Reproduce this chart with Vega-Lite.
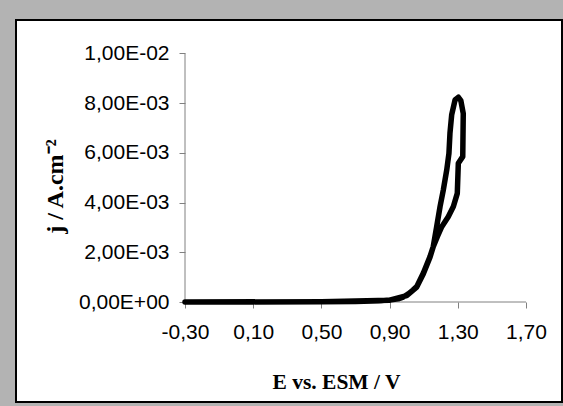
{
  "$schema": "https://vega.github.io/schema/vega-lite/v6.json",
  "width": 546,
  "height": 382,
  "autosize": {"type": "none"},
  "padding": {"left": 16, "top": 20, "right": 1, "bottom": 4},
  "background": "#b3b3b3",
  "config": {
    "view": {"stroke": "#000000", "strokeWidth": 2, "fill": "#ffffff"},
    "axis": {"grid": false, "domain": false, "tickColor": "#808080", "tickSize": 6, "labelColor": "#000000", "labelFont": "Liberation Sans", "labelFontSize": 21, "titleColor": "#000000", "titleFont": "Liberation Serif", "titleFontWeight": "bold"}
  },
  "datasets": {
    "axes": [
      {"E0": -0.3, "E1": 1.7, "j0": 0, "j1": 0.01}
    ],
    "cv": [
      {"E": -0.30, "j": 0.0, "k": 1},
      {"E": 0.10, "j": 0.000005, "k": 2},
      {"E": 0.50, "j": 0.00001, "k": 3},
      {"E": 0.70, "j": 0.00002, "k": 4},
      {"E": 0.85, "j": 0.00005, "k": 5},
      {"E": 0.90, "j": 0.00008, "k": 6},
      {"E": 0.95, "j": 0.00013, "k": 7},
      {"E": 0.98, "j": 0.0002, "k": 8},
      {"E": 1.01, "j": 0.00033, "k": 9},
      {"E": 1.037, "j": 0.00048, "k": 10},
      {"E": 1.059, "j": 0.00062, "k": 11},
      {"E": 1.098, "j": 0.00117, "k": 12},
      {"E": 1.137, "j": 0.00183, "k": 13},
      {"E": 1.156, "j": 0.00223, "k": 14},
      {"E": 1.180, "j": 0.00263, "k": 15},
      {"E": 1.206, "j": 0.00303, "k": 16},
      {"E": 1.244, "j": 0.00343, "k": 17},
      {"E": 1.274, "j": 0.00384, "k": 18},
      {"E": 1.297, "j": 0.00437, "k": 19},
      {"E": 1.303, "j": 0.00558, "k": 20},
      {"E": 1.329, "j": 0.00585, "k": 21},
      {"E": 1.332, "j": 0.00759, "k": 22},
      {"E": 1.318, "j": 0.00810, "k": 23},
      {"E": 1.303, "j": 0.00824, "k": 24},
      {"E": 1.284, "j": 0.00813, "k": 25},
      {"E": 1.264, "j": 0.00753, "k": 26},
      {"E": 1.254, "j": 0.00679, "k": 27},
      {"E": 1.248, "j": 0.00598, "k": 28},
      {"E": 1.235, "j": 0.00531, "k": 29},
      {"E": 1.215, "j": 0.00451, "k": 30},
      {"E": 1.196, "j": 0.00384, "k": 31},
      {"E": 1.176, "j": 0.00303, "k": 32},
      {"E": 1.156, "j": 0.00223, "k": 33},
      {"E": 1.137, "j": 0.00180, "k": 34},
      {"E": 1.098, "j": 0.00114, "k": 35},
      {"E": 1.059, "j": 0.00060, "k": 36},
      {"E": 1.00, "j": 0.00026, "k": 37},
      {"E": 0.90, "j": 0.00007, "k": 38},
      {"E": 0.50, "j": 0.00001, "k": 39},
      {"E": -0.30, "j": 0.0, "k": 40}
    ]
  },
  "layer": [
    {
      "data": {"name": "axes"},
      "mark": {"type": "rule", "color": "#808080", "strokeWidth": 1},
      "encoding": {"x": {"field": "E0", "type": "quantitative"}, "x2": {"field": "E1"}, "y": {"field": "j0", "type": "quantitative"}}
    },
    {
      "data": {"name": "axes"},
      "mark": {"type": "rule", "color": "#808080", "strokeWidth": 1},
      "encoding": {"x": {"field": "E0", "type": "quantitative"}, "y": {"field": "j0", "type": "quantitative"}, "y2": {"field": "j1"}}
    },
    {
      "data": {"name": "cv"},
      "mark": {"type": "line", "color": "#000000", "strokeWidth": 5.5, "strokeJoin": "round", "strokeCap": "round"},
      "encoding": {
        "x": {
          "field": "E", "type": "quantitative",
          "scale": {"domain": [-1.2912, 1.9111], "nice": false, "zero": false},
          "axis": {
            "orient": "bottom", "offset": -100, "values": [-0.3, 0.1, 0.5, 0.9, 1.3, 1.7],
            "labelExpr": "replace(replace(format(datum.value, '.2f'), '.', ','), '\u2212', '-')",
            "labelPadding": 13, "labelFlush": false, "labelOverlap": false,
            "title": "E vs. ESM / V", "titleFontSize": 21.5, "titleX": 320, "titleY": 86, "titleBaseline": "alphabetic", "titleAlign": "center"
          }
        },
        "y": {
          "field": "j", "type": "quantitative",
          "scale": {"domain": [-0.004024, 0.011348], "nice": false, "zero": false},
          "axis": {
            "orient": "left", "offset": -169, "values": [0, 0.002, 0.004, 0.006, 0.008, 0.01],
            "labelExpr": "replace(replace(replace(replace(format(datum.value, '.2e'), '.', ','), 'e-', 'E-0'), 'e+', 'E+0'), '\u2212', '-')",
            "labelPadding": 10, "labelFlush": false, "labelOverlap": false,
            "title": "j / A.cm\u207B\u00B2", "titleFontSize": 24, "titleAngle": -90, "titleX": -123, "titleY": 166, "titleBaseline": "alphabetic", "titleAlign": "center"
          }
        },
        "order": {"field": "k", "type": "quantitative"}
      }
    }
  ]
}
